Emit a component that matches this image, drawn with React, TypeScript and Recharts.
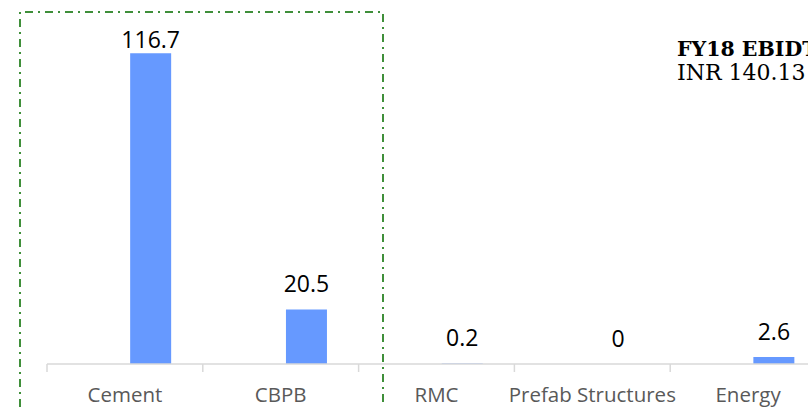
import React from "react";
import { BarChart, Bar, XAxis, YAxis, LabelList } from "recharts";

const categories = ["Cement", "CBPB", "RMC", "Prefab Structures", "Energy"];
const ebitdaFY18 = [116.7, 20.5, 0.2, 0, 2.6];
const hiddenSeries: (number | null)[] = [null, null, null, null, null];
const titleLines = ["FY18 EBIDTA", "INR 140.13 Cr"];

const data = categories.map((c, i) => ({
  name: c,
  hidden: hiddenSeries[i],
  value: ebitdaFY18[i],
}));

const CHART_W = 840;
const CHART_H = 407;
const MARGIN = { top: 44.5, right: 14, bottom: 13, left: 47 };
const HALF_BAND = (CHART_W - MARGIN.left - MARGIN.right) / categories.length / 2;
const LABEL_FONT = "'Open Sans', sans-serif";
const TITLE_FONT = "'DejaVu Serif', serif";

function CategoryTick(props: any) {
  const { x, y, payload } = props;
  return (
    <g>
      <line x1={x - HALF_BAND} x2={x - HALF_BAND} y1={y} y2={y + 8} stroke="#d9d9d9" strokeWidth={1.5} />
      <text x={x} y={y + 38} textAnchor="middle" fill="#595959" fontSize={20.5} fontFamily={LABEL_FONT}>
        {payload.value}
      </text>
    </g>
  );
}

function ValueLabel(props: any) {
  const { x, y, width, index } = props;
  const v = ebitdaFY18[index];
  if (v === null || v === undefined) return null;
  const ty = Math.max(y - 17, 48.3);
  return (
    <text x={x + width / 2} y={ty} textAnchor="middle" fill="#000" fontSize={23} fontFamily={LABEL_FONT}>
      {String(v)}
    </text>
  );
}

export default function App() {
  return (
    <div style={{ position: "absolute", left: 0, top: 0, width: 808, height: 407, overflow: "hidden", background: "#fff" }}>
      <BarChart
        width={CHART_W}
        height={CHART_H}
        data={data}
        margin={MARGIN}
        barCategoryGap="20%"
        barGap={11}
      >
        <XAxis
          dataKey="name"
          axisLine={{ stroke: "#d9d9d9", strokeWidth: 1.5 }}
          tickLine={false}
          tickSize={0}
          tickMargin={0}
          height={30}
          interval={0}
          tick={<CategoryTick />}
        />
        <YAxis hide domain={[0, 120]} />
        <Bar dataKey="hidden" fill="#6699ff" isAnimationActive={false} />
        <Bar
          dataKey="value"
          fill="#6699ff"
          isAnimationActive={false}
          minPointSize={(v: any) => (v === 0 ? 0.01 : 0)}
        >
          <LabelList dataKey="value" content={<ValueLabel />} />
        </Bar>
      </BarChart>
      <svg
        width={808}
        height={407}
        style={{ position: "absolute", left: 0, top: 0, pointerEvents: "none" }}
      >
        <path
          d="M20,407 L20,12 L383,12 L383,407"
          fill="none"
          stroke="#3f8f3a"
          strokeWidth={2}
          strokeDasharray="8 5 2 5"
        />
        <text x={677} y={56} fontFamily={TITLE_FONT} fontWeight="bold" fontSize={20.5} fill="#000">
          {titleLines[0]}
        </text>
        <text x={677} y={80} fontFamily={TITLE_FONT} fontSize={22} fill="#000">
          {titleLines[1]}
        </text>
      </svg>
    </div>
  );
}
